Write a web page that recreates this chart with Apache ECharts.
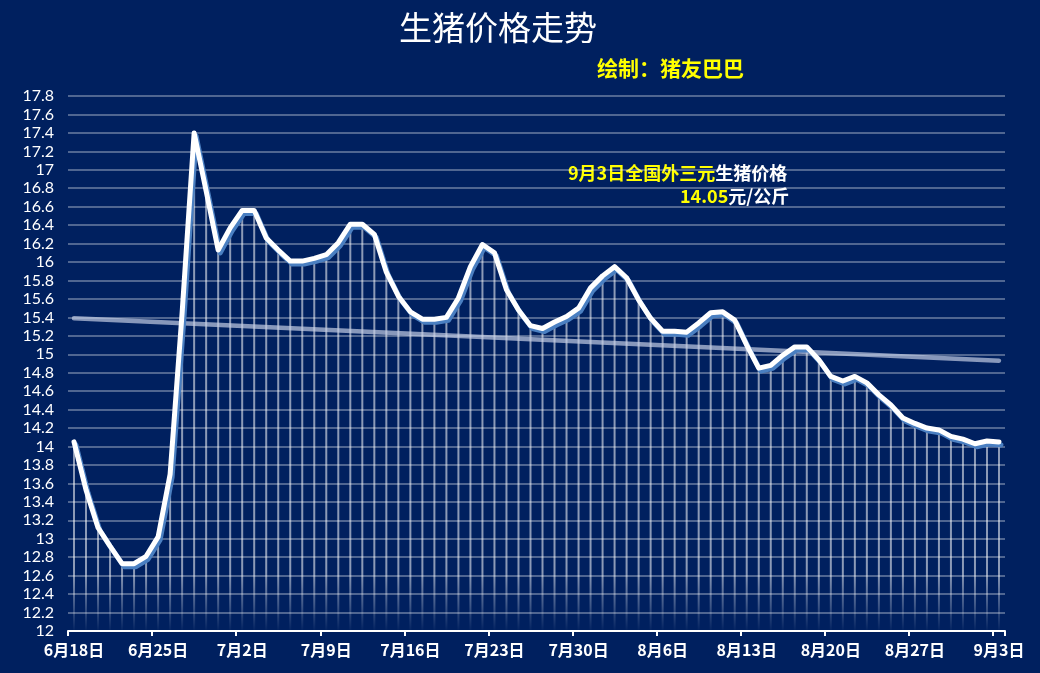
<!DOCTYPE html>
<html>
<head>
<meta charset="utf-8">
<script src="https://cdn.jsdelivr.net/npm/echarts@6/dist/echarts.min.js"></script>
<style>
html,body{margin:0;padding:0;background:#00205F;}
#c{width:1040px;height:673px;}
</style>
</head>
<body>
<div id="c"></div>
<script>
// categories (daily dates)
var dates = [
'6月18日','6月19日','6月20日','6月21日','6月22日','6月23日','6月24日','6月25日','6月26日','6月27日','6月28日','6月29日','6月30日',
'7月1日','7月2日','7月3日','7月4日','7月5日','7月6日','7月7日','7月8日','7月9日','7月10日','7月11日','7月12日','7月13日','7月14日','7月15日','7月16日','7月17日','7月18日','7月19日','7月20日','7月21日','7月22日','7月23日','7月24日','7月25日','7月26日','7月27日','7月28日','7月29日','7月30日','7月31日',
'8月1日','8月2日','8月3日','8月4日','8月5日','8月6日','8月7日','8月8日','8月9日','8月10日','8月11日','8月12日','8月13日','8月14日','8月15日','8月16日','8月17日','8月18日','8月19日','8月20日','8月21日','8月22日','8月23日','8月24日','8月25日','8月26日','8月27日','8月28日','8月29日','8月30日','8月31日',
'9月1日','9月2日','9月3日'
];
// pig price (元/公斤)
var prices = [
14.05, 13.53, 13.12, 12.92, 12.73, 12.73, 12.81, 13.02, 13.70, 15.45,
17.40, 16.77, 16.13, 16.37, 16.56, 16.56, 16.26, 16.13, 16.01, 16.01,
16.04, 16.08, 16.21, 16.41, 16.41, 16.30, 15.89, 15.63, 15.46, 15.38,
15.38, 15.40, 15.61, 15.95, 16.19, 16.10, 15.70, 15.48, 15.31, 15.28,
15.35, 15.41, 15.50, 15.72, 15.85, 15.95, 15.83, 15.59, 15.39, 15.25,
15.25, 15.24, 15.34, 15.45, 15.46, 15.37, 15.10, 14.85, 14.88, 14.99,
15.08, 15.08, 14.94, 14.76, 14.71, 14.76, 14.69, 14.56, 14.45, 14.31,
14.25, 14.20, 14.18, 14.11, 14.08, 14.03, 14.06, 14.05
];
// trend line end values
var trendStart = 15.39;
var trendEnd = 14.93;
// y ticks
var yMin = 12, yMax = 17.8, yStep = 0.2;
var labelEvery = 7;

var titleText = '生猪价格走势';
var subText = '绘制：猪友巴巴';

var trend = dates.map(function (d, i) {
  if (i === 0) return trendStart;
  if (i === dates.length - 1) return trendEnd;
  return null;
});

var chart = echarts.init(document.getElementById('c'), null, {renderer: 'canvas'});
var dropGrad = new echarts.graphic.LinearGradient(0, 572, 0, 632, [
  {offset: 0, color: 'rgba(255,255,255,0.55)'},
  {offset: 1, color: 'rgba(255,255,255,0)'}
], true);

var showIdx = function (idx) { return idx % labelEvery === 0; };

chart.setOption({
  backgroundColor: '#00205F',
  animation: false,
  grid: {left: 68, right: 35, top: 96, bottom: 42, containLabel: false},
  xAxis: {
    type: 'category',
    data: dates,
    boundaryGap: true,
    axisLine: {show: true, lineStyle: {color: '#ffffff', width: 2}},
    axisTick: {show: true, interval: showIdx, length: 5, lineStyle: {color: '#ffffff', width: 2}},
    axisLabel: {
      interval: showIdx,
      color: '#ffffff',
      fontSize: 16,
      fontWeight: 'bold',
      fontFamily: 'Noto Sans CJK SC',
      margin: 11
    },
    splitLine: {show: false}
  },
  yAxis: {
    type: 'value',
    min: yMin,
    max: yMax,
    interval: yStep,
    axisLine: {show: false},
    axisTick: {show: false},
    axisLabel: {
      color: '#ffffff',
      fontSize: 16,
      fontFamily: 'Lato',
      margin: 14,
      formatter: function (v) { return String(Math.round(v * 10) / 10); }
    },
    splitLine: {show: true, lineStyle: {color: 'rgba(255,255,255,0.42)', width: 1.5}}
  },
  series: [
    {
      type: 'bar',
      data: prices,
      barWidth: 2,
      silent: true,
      itemStyle: {color: dropGrad},
      z: 1
    },
    {
      type: 'line',
      data: trend,
      connectNulls: true,
      symbol: 'none',
      silent: true,
      lineStyle: {color: 'rgba(200,210,232,0.68)', width: 4.5, cap: 'round'},
      z: 2
    },
    {
      type: 'line',
      data: prices,
      symbol: 'none',
      silent: true,
      lineStyle: {
        color: '#ffffff',
        width: 5,
        cap: 'round',
        join: 'round',
        shadowColor: '#4a7fc1',
        shadowOffsetX: 2,
        shadowOffsetY: 3,
        shadowBlur: 0
      },
      z: 3
    }
  ],
  graphic: [
    {
      type: 'text',
      left: 399,
      top: 11,
      style: {text: titleText, fill: '#ffffff', font: 'normal 33px "Noto Sans CJK SC"'}
    },
    {
      type: 'text',
      left: 597,
      top: 58,
      style: {text: subText, fill: '#FFFF00', font: 'bold 21px "Noto Sans CJK SC"'}
    },
    {
      type: 'text',
      left: 568,
      top: 164,
      style: {
        text: '{y|9月3日全国外三元}{w|生猪价格}',
        rich: {
          y: {fill: '#FFFF00', font: 'bold 18px "Noto Sans CJK SC"'},
          w: {fill: '#ffffff', font: 'bold 18px "Noto Sans CJK SC"'}
        }
      }
    },
    {
      type: 'text',
      left: 680,
      top: 187,
      style: {
        text: '{y|14.05}{w|元/公斤}',
        rich: {
          y: {fill: '#FFFF00', font: 'bold 18px "Noto Sans CJK SC"'},
          w: {fill: '#ffffff', font: 'bold 18px "Noto Sans CJK SC"'}
        }
      }
    }
  ]
});
</script>
</body>
</html>
